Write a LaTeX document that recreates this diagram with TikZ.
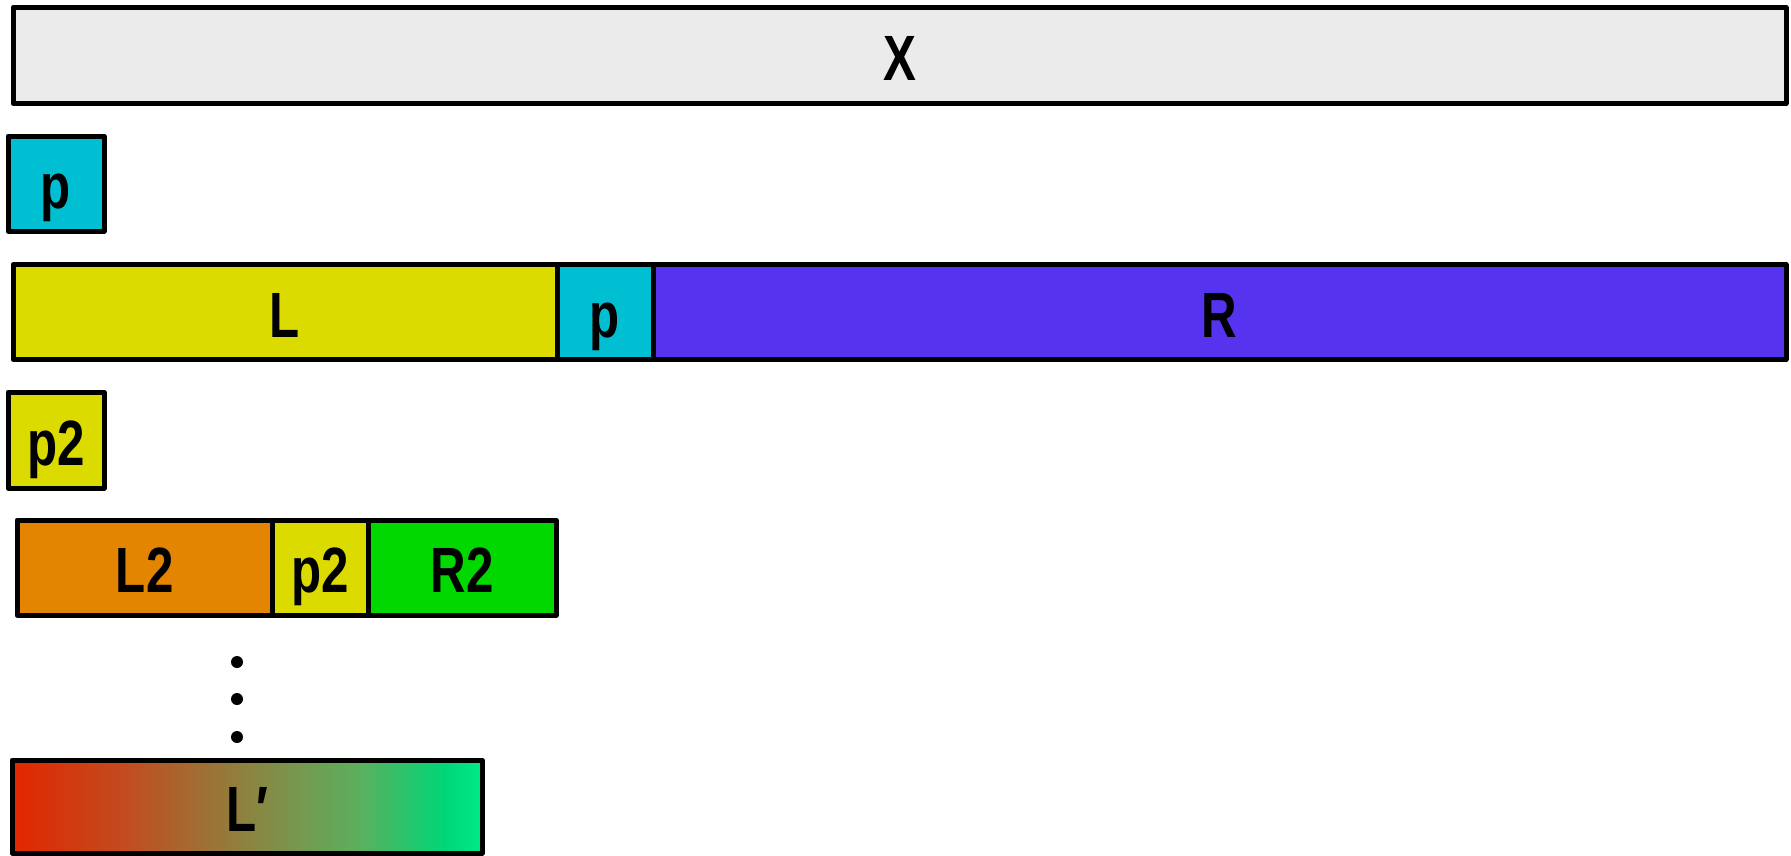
\documentclass[tikz,border=0pt]{standalone}
\usepackage{fontspec}
\setmainfont{Liberation Sans}[FakeStretch=0.77]
\definecolor{greybg}{HTML}{EBEBEB}
\definecolor{cyanp}{HTML}{00BFD3}
\definecolor{yellowL}{HTML}{DBDB00}
\definecolor{purpleR}{HTML}{5633EE}
\definecolor{orangeL}{HTML}{E38500}
\definecolor{greenR}{HTML}{00D800}
\definecolor{gA}{HTML}{E32600}
\definecolor{gB}{HTML}{C24C1F}
\definecolor{gC}{HTML}{8C8340}
\definecolor{gD}{HTML}{5BB05E}
\definecolor{gE}{HTML}{00D678}
\definecolor{gF}{HTML}{00EA88}
\pgfdeclarehorizontalshading{lprime}{100bp}{color(0bp)=(gA); color(25bp)=(gA); color(37bp)=(gB); color(50bp)=(gC); color(62bp)=(gD); color(71bp)=(gE); color(75bp)=(gF); color(100bp)=(gF)}
\tikzset{
  seg/.style={draw=black, line width=5pt, line join=round, rectangle, inner sep=0pt,
    font=\fontsize{64}{70}\bfseries\selectfont, text height=50pt, text depth=0pt},
  dotmark/.style={circle, fill=black, inner sep=0pt, minimum size=12pt},
}
\begin{document}
\begin{tikzpicture}[x=1pt, y=-1pt]
\useasboundingbox (0,0) rectangle (1791,855);
% whole array
\node[seg, fill=greybg, minimum width=1773pt, minimum height=96pt] (x) at (899.5,55.5) {X};
% pivot
\node[seg, fill=cyanp, minimum width=96pt, minimum height=95pt] (p) at (56,183.5) {p};
% first partition
\node[seg, fill=yellowL, minimum width=544pt, minimum height=95pt] (l) at (285,312) {L};
\node[seg, fill=cyanp, minimum width=96pt, minimum height=95pt] (pm) at (605,312) {p};
\node[seg, fill=purpleR, minimum width=1133pt, minimum height=95pt] (r) at (1219.5,312) {R};
% second pivot
\node[seg, fill=yellowL, minimum width=96pt, minimum height=96pt] (p2) at (56,440) {p2};
% second partition
\node[seg, fill=orangeL, minimum width=255.5pt, minimum height=95pt] (l2) at (144.75,567.5) {L2};
\node[seg, fill=yellowL, minimum width=95.5pt, minimum height=95pt] (p2m) at (320.25,567.5) {p2};
\node[seg, fill=greenR, minimum width=188pt, minimum height=95pt] (r2) at (462,567.5) {R2};
% continuation dots
\node[dotmark] (d1) at (237,662) {};
\node[dotmark] (d2) at (237,699) {};
\node[dotmark] (d3) at (237,737) {};
% sorted result
\node[seg, shading=lprime, minimum width=470pt, minimum height=93pt] (lp) at (247,806.5) {L′};
\end{tikzpicture}
\end{document}
